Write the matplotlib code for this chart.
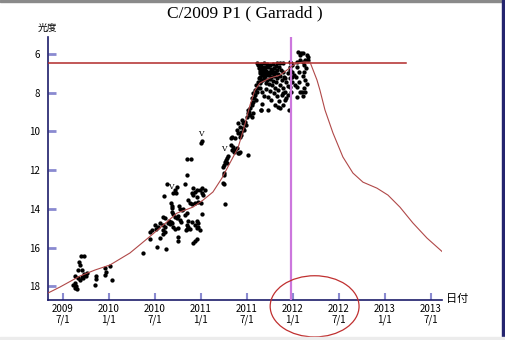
import matplotlib
matplotlib.use("Agg")
from matplotlib import pyplot as plt
from matplotlib.patches import Ellipse, Rectangle

title = "C/2009 P1 ( Garradd )"

# observations: decimal year, magnitude
obs_year = [
    # 2009
    2009.70, 2009.73, 2009.67, 2009.68, 2009.66, 2009.71, 2009.63, 2009.66, 2009.71, 2009.74,
    2009.76, 2009.73, 2009.68, 2009.72, 2009.75, 2009.63, 2009.64, 2009.63, 2009.61, 2009.65,
    2009.86, 2009.86, 2009.85, 2009.96, 2009.97, 2009.96, 2010.01, 2010.03,
    # 2010
    2010.845, 2010.891, 2010.851, 2010.634, 2010.717, 2010.736, 2010.699, 2010.725, 2010.598, 2010.826,
    2010.916, 2010.935, 2010.960, 2010.989, 2011.008, 2011.044, 2010.899, 2010.916, 2010.953, 2011.008,
    2011.025, 2010.671, 2010.682, 2010.688, 2010.761, 2010.862, 2010.881, 2010.899, 2010.935, 2010.971,
    2010.997, 2010.772, 2010.790, 2010.807, 2010.682, 2010.699, 2010.845, 2010.826, 2011.008, 2010.590,
    2010.609, 2010.717, 2010.736, 2010.753, 2010.655, 2010.671, 2010.682, 2010.663, 2010.645, 2010.555,
    2010.584, 2010.609, 2010.772, 2010.779, 2010.862, 2010.899, 2010.960, 2010.971, 2010.845, 2010.862,
    2010.881, 2010.837, 2010.851, 2010.699, 2010.717, 2010.753, 2010.935, 2010.960, 2010.989, 2010.971,
    2010.500, 2010.536, 2010.511, 2010.465, 2010.446, 2010.590, 2010.609, 2010.555, 2010.584, 2010.753,
    2010.753, 2010.916, 2010.935, 2010.953, 2010.446, 2010.518, 2010.620, 2010.366,
    # 2011 rise
    2011.25, 2011.253, 2011.261, 2011.008, 2011.000, 2011.25, 2011.243, 2011.261, 2011.272, 2011.279,
    2011.253, 2011.243, 2011.288, 2011.29, 2011.33, 2011.33, 2011.35, 2011.37, 2011.39, 2011.40,
    2011.36, 2011.34, 2011.39, 2011.40, 2011.42, 2011.44, 2011.40, 2011.42, 2011.44, 2011.46,
    2011.48, 2011.45, 2011.42, 2011.41, 2011.51, 2011.34, 2011.37, 2011.46, 2011.50, 2011.51,
    2011.53, 2011.55, 2011.51, 2011.57, 2011.55, 2011.59, 2011.57, 2011.59, 2011.62, 2011.60,
    2011.64, 2011.62, 2011.66, 2011.64, 2011.68, 2011.64, 2011.66, 2011.68, 2011.70, 2011.53,
    2011.55, 2011.57, 2011.65, 2011.47, 2011.49, 2011.52, 2011.56, 2011.58, 2011.61,
    # 2011 plateau
    2011.62, 2011.65, 2011.69, 2011.72, 2011.75, 2011.78, 2011.82, 2011.63, 2011.66, 2011.70,
    2011.73, 2011.76, 2011.79, 2011.83, 2011.64, 2011.67, 2011.71, 2011.74, 2011.77, 2011.80,
    2011.84, 2011.66, 2011.70, 2011.73, 2011.76, 2011.79, 2011.83, 2011.69, 2011.72, 2011.75,
    2011.78, 2011.82, 2011.71, 2011.74, 2011.77, 2011.85, 2011.87, 2011.89, 2011.86, 2011.90,
    2011.88, 2011.64, 2011.66, 2011.69, 2011.73, 2011.76, 2011.71, 2011.75, 2011.80, 2011.84,
    2011.79, 2011.83, 2011.86, 2011.89, 2011.91, 2011.88, 2011.92, 2011.95, 2011.85, 2011.89,
    2011.91, 2011.86, 2011.84, 2011.96, 2011.73, 2011.66, 2011.60, 2011.80, 2011.65,
    2011.61, 2011.83, 2011.86, 2011.89, 2011.98,
    2011.97, 2011.97, 2011.99, 2011.97, 2011.99, 2011.95, 2011.99, 2011.97, 2011.99, 2011.97,
    2011.98, 2011.95, 2011.91, 2011.89, 2011.92,
    2011.64, 2011.67, 2011.68, 2011.71, 2011.74, 2011.77, 2011.80, 2011.63, 2011.65, 2011.69,
    # 2012
    2012.05, 2012.08, 2012.09, 2012.11, 2012.15, 2012.16, 2012.08, 2012.13, 2012.16, 2012.04,
    2012.11, 2012.04, 2012.07, 2012.03, 2012.07, 2012.04, 2012.08, 2012.04, 2012.12, 2012.14,
    2012.12, 2012.11, 2012.13, 2012.15, 2012.12, 2012.10, 2012.13, 2012.11, 2012.01, 2012.02,
]
obs_mag = [
    16.44, 16.44, 16.75, 16.90, 17.16, 17.16, 17.47, 17.58, 17.52, 17.42,
    17.32, 17.37, 17.68, 17.58, 17.47, 17.83, 17.99, 18.09, 17.94, 18.14,
    17.47, 17.63, 17.94, 17.06, 17.27, 17.42, 16.96, 17.68,
    11.44, 11.44, 12.26, 12.74, 13.03, 12.89, 13.17, 13.17, 13.34, 12.74,
    12.94, 13.12, 13.00, 13.03, 12.94, 13.00, 13.20, 13.29, 13.38, 13.17,
    13.29, 13.72, 13.86, 13.98, 13.86, 13.55, 13.69, 13.76, 13.69, 13.64,
    13.69, 14.03, 14.07, 14.03, 14.15, 14.24, 14.21, 14.32, 14.24, 14.41,
    14.49, 14.41, 14.49, 14.38, 14.63, 14.67, 14.75, 14.79, 14.72, 14.72,
    14.84, 14.93, 14.58, 14.67, 14.62, 14.67, 14.62, 14.72, 14.84, 14.96,
    15.06, 15.10, 15.03, 14.96, 15.06, 15.01, 14.84, 15.01, 15.10, 14.96,
    14.84, 14.96, 15.06, 15.10, 15.19, 15.10, 15.19, 15.48, 15.31, 15.45,
    15.65, 15.76, 15.65, 15.58, 15.58, 15.99, 16.05, 16.27,
    12.14, 12.69, 13.76, 10.48, 10.62, 12.26, 12.65, 11.57, 11.48, 11.65,
    11.74, 11.83, 11.38, 11.27, 10.36, 10.70, 10.81, 10.96, 10.86, 11.12,
    11.07, 10.96, 9.93, 10.10, 9.76, 10.02, 9.58, 10.29, 10.19, 9.82,
    9.51, 9.41, 11.05, 11.13, 11.22, 10.27, 10.36, 9.58, 9.24, 9.07,
    8.81, 8.64, 8.89, 8.47, 8.29, 8.12, 8.03, 7.86, 7.77, 7.60,
    7.52, 7.43, 7.34, 7.17, 7.00, 7.00, 6.83, 6.74, 6.65, 9.15,
    9.24, 9.07, 8.89, 9.95, 9.65, 9.00, 8.55, 8.25, 7.95,
    6.57, 6.52, 6.47, 6.52, 6.57, 6.52, 6.62, 6.72, 6.67, 6.72,
    6.67, 6.78, 6.72, 6.83, 6.88, 6.93, 6.88, 6.93, 6.98, 6.93,
    7.03, 7.09, 7.14, 7.09, 7.19, 7.14, 7.24, 7.29, 7.34, 7.29,
    7.40, 7.45, 7.50, 7.55, 7.60, 6.67, 6.83, 6.93, 7.14, 7.19,
    7.34, 7.76, 7.96, 8.17, 8.22, 8.38, 7.81, 7.91, 7.76, 7.86,
    8.02, 8.17, 7.60, 7.76, 7.96, 8.12, 7.45, 7.65, 8.43, 8.64,
    8.38, 8.79, 8.74, 8.89, 8.89, 8.58, 8.38, 8.64, 8.89,
    6.47, 6.47, 6.47, 6.47, 6.47,
    6.41, 6.67, 6.57, 6.83, 6.93, 6.98, 7.19, 7.24, 7.45, 7.71,
    7.96, 8.12, 7.24, 8.02, 8.27,
    6.60, 6.80, 7.00, 6.98, 7.05, 6.85, 7.00, 7.25, 7.40, 7.20,
    5.90, 6.05, 5.95, 5.95, 6.05, 6.16, 6.31, 6.31, 6.31, 6.41,
    6.41, 6.67, 6.93, 7.19, 7.45, 7.71, 7.96, 8.22, 6.57, 6.72,
    6.93, 7.14, 7.34, 7.55, 7.76, 7.96, 7.96, 8.17, 7.09, 7.60,
]

# predicted light curve
curve_year = [2009.337, 2009.467, 2009.685, 2009.848, 2010.011, 2010.228, 2010.424, 2010.554,
              2010.739, 2010.913, 2011.022, 2011.130, 2011.228, 2011.315, 2011.402, 2011.467,
              2011.533, 2011.587, 2011.641, 2011.750, 2011.859, 2011.935, 2011.989, 2012.043,
              2012.120, 2012.185, 2012.261, 2012.293, 2012.348, 2012.435, 2012.543, 2012.652,
              2012.761, 2012.913, 2013.033, 2013.163, 2013.304, 2013.457, 2013.620]
curve_mag = [18.35, 18.04, 17.47, 17.16, 16.90, 16.28, 15.51, 14.99,
             14.22, 13.91, 13.55, 13.13, 12.41, 11.63, 10.86, 9.82,
             8.64, 7.86, 7.50, 7.24, 7.09, 6.83, 6.62, 6.47,
             6.41, 6.41, 7.34, 7.86, 8.89, 10.08, 11.32, 12.15,
             12.62, 12.93, 13.29, 13.91, 14.73, 15.51, 16.20]

# "V" marks (year, mag)
v_year = [2011.00, 2011.25, 2010.67]
v_mag = [10.35, 11.12, 13.08]

peak_mag = 6.45
peak_end = 2013.228
today = 2011.978

xtick_pos = [2009.5, 2010.0, 2010.5, 2011.0, 2011.5, 2012.0, 2012.5, 2013.0, 2013.5]
xtick_labels = ["2009\n7/1", "2010\n1/1", "2010\n7/1", "2011\n1/1", "2011\n7/1",
                "2012\n1/1", "2012\n7/1", "2013\n1/1", "2013\n7/1"]
ytick_pos = [6, 8, 10, 12, 14, 16, 18]

jp = ['Noto Sans CJK JP', 'DejaVu Sans']

fig = plt.figure(figsize=(5.05, 3.4), dpi=100)
ax = fig.add_axes([0.095, 0.1176, 0.7802, 0.7736])

ax.plot(obs_year, obs_mag, 'o', color='black', ms=3.1, mew=0, zorder=2)
ax.plot([2009.337, peak_end], [peak_mag, peak_mag], color='#b22a2a', lw=1.1, zorder=4)
ax.axvline(today, color='#cc77dd', lw=1.6, zorder=3)
ax.plot(curve_year, curve_mag, color='#b04848', lw=0.8, zorder=5)
for vx, vy in zip(v_year, v_mag):
    ax.text(vx, vy, 'V', ha='center', va='bottom', fontsize=5.5, family='DejaVu Serif', zorder=6)

ax.set_xlim(2009.337, 2013.62)
ax.set_ylim(18.71, 5.12)
ax.spines['top'].set_visible(False)
ax.spines['right'].set_visible(False)
for s in ['left', 'bottom']:
    ax.spines[s].set_color('#1c1c6a')
    ax.spines[s].set_linewidth(1.2)

ax.set_xticks(xtick_pos)
ax.set_xticklabels(xtick_labels, family=jp, fontsize=7, linespacing=1.1)
ax.set_yticks(ytick_pos)
ax.set_yticklabels([str(v) for v in ytick_pos], family=jp, fontsize=7)
ax.tick_params(axis='x', direction='in', length=5, width=1.5, color='#8a8ad0', pad=3)
ax.tick_params(axis='y', direction='in', length=6, width=2, color='#8a8ad0', pad=6)

fig.text(0.485, 0.960, title, ha='center', va='center', fontsize=12.5, family='Liberation Serif')
fig.text(0.093, 0.918, '光度', ha='center', va='center', fontsize=7, family=jp)
fig.text(0.905, 0.12, '日付', ha='center', va='center', fontsize=8, family=jp)

fig.patches.append(Ellipse((0.623, 0.099), 0.176, 0.18, transform=fig.transFigure,
                           fill=False, edgecolor='#c03030', lw=0.9))
fig.patches.append(Rectangle((0, 0.995), 1, 0.005, transform=fig.transFigure,
                             color='#8a8a8a'))
fig.patches.append(Rectangle((0.995, 0), 0.005, 1, transform=fig.transFigure,
                             color='#24246e'))
fig.patches.append(Rectangle((0, 0), 1, 0.01, transform=fig.transFigure,
                             color='#ececec'))

fig.savefig('out.png', dpi=100)
